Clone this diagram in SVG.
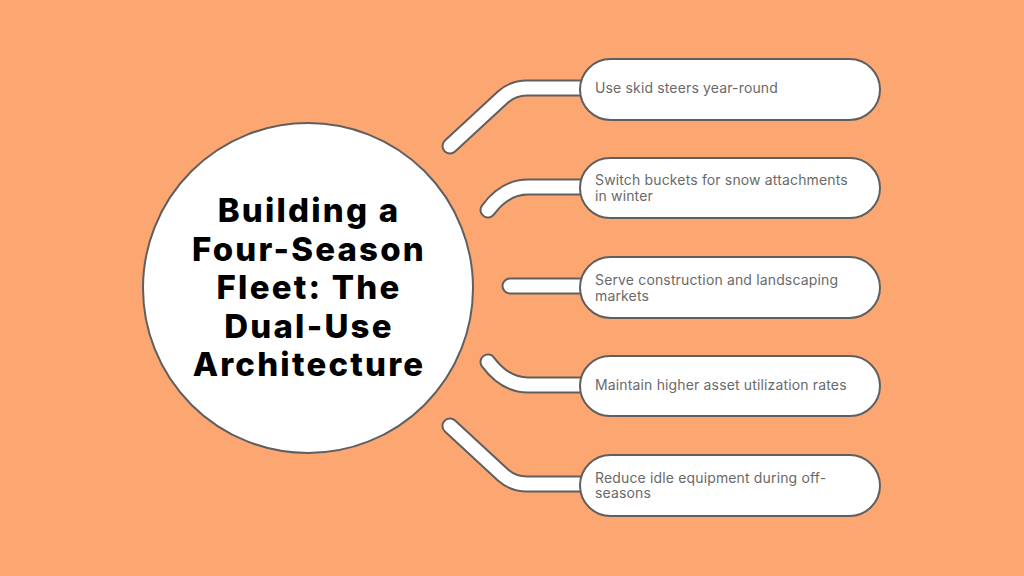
<svg xmlns="http://www.w3.org/2000/svg" width="1024" height="576" viewBox="0 0 1024 576">
<style>
.bg{fill:#FCA771}
.tube-o{fill:none;stroke:#5f5f5f;stroke-width:17;stroke-linecap:round;stroke-linejoin:round}
.tube-i{fill:none;stroke:#ffffff;stroke-width:13;stroke-linecap:round;stroke-linejoin:round}
.pill{fill:#ffffff;stroke:#5f5f5f;stroke-width:2}
.hub{fill:#ffffff;stroke:#5f5f5f;stroke-width:2}
.title{font-family:Inter,"Noto Sans","Liberation Sans",sans-serif;font-weight:800;font-size:33px;letter-spacing:2.2px;fill:#000;text-anchor:middle}
.lbl{font-family:Inter,"Noto Sans","Liberation Sans",sans-serif;font-size:14px;letter-spacing:0.15px;fill:#6a6a6a}
</style>
<rect class="bg" x="0" y="0" width="1024" height="576"/>
<g id="connectors">
  <path class="tube-o" d="M450 146 L503 97 Q513 88 527 88 L584 88"/>
  <path class="tube-i" d="M450 146 L503 97 Q513 88 527 88 L584 88"/>
  <path class="tube-o" d="M488 210 Q505 187 528 187 L584 187"/>
  <path class="tube-i" d="M488 210 Q505 187 528 187 L584 187"/>
  <path class="tube-o" d="M510 286 L584 286"/>
  <path class="tube-i" d="M510 286 L584 286"/>
  <path class="tube-o" d="M488 362 Q505 385 528 385 L584 385"/>
  <path class="tube-i" d="M488 362 Q505 385 528 385 L584 385"/>
  <path class="tube-o" d="M450 426 L503 475 Q513 484 527 484 L584 484"/>
  <path class="tube-i" d="M450 426 L503 475 Q513 484 527 484 L584 484"/>
</g>
<g id="hub">
  <circle class="hub" cx="308" cy="288" r="165"/>
  <text class="title" x="309" y="222">Building a</text>
  <text class="title" x="309" y="261">Four-Season</text>
  <text class="title" x="309" y="299">Fleet: The</text>
  <text class="title" x="309" y="338">Dual-Use</text>
  <text class="title" x="309" y="376">Architecture</text>
</g>
<g id="node1">
  <rect class="pill" x="580" y="59" width="300" height="61" rx="30.5"/>
  <text class="lbl" x="595" y="93">Use skid steers year-round</text>
</g>
<g id="node2">
  <rect class="pill" x="580" y="158" width="300" height="60" rx="30"/>
  <text class="lbl" x="595" y="185">Switch buckets for snow attachments</text>
  <text class="lbl" x="595" y="201">in winter</text>
</g>
<g id="node3">
  <rect class="pill" x="580" y="257" width="300" height="61" rx="30.5"/>
  <text class="lbl" x="595" y="285">Serve construction and landscaping</text>
  <text class="lbl" x="595" y="301">markets</text>
</g>
<g id="node4">
  <rect class="pill" x="580" y="356" width="300" height="60" rx="30"/>
  <text class="lbl" x="595" y="390">Maintain higher asset utilization rates</text>
</g>
<g id="node5">
  <rect class="pill" x="580" y="455" width="300" height="61" rx="30.5"/>
  <text class="lbl" x="595" y="483">Reduce idle equipment during off-</text>
  <text class="lbl" x="595" y="498">seasons</text>
</g>
</svg>
